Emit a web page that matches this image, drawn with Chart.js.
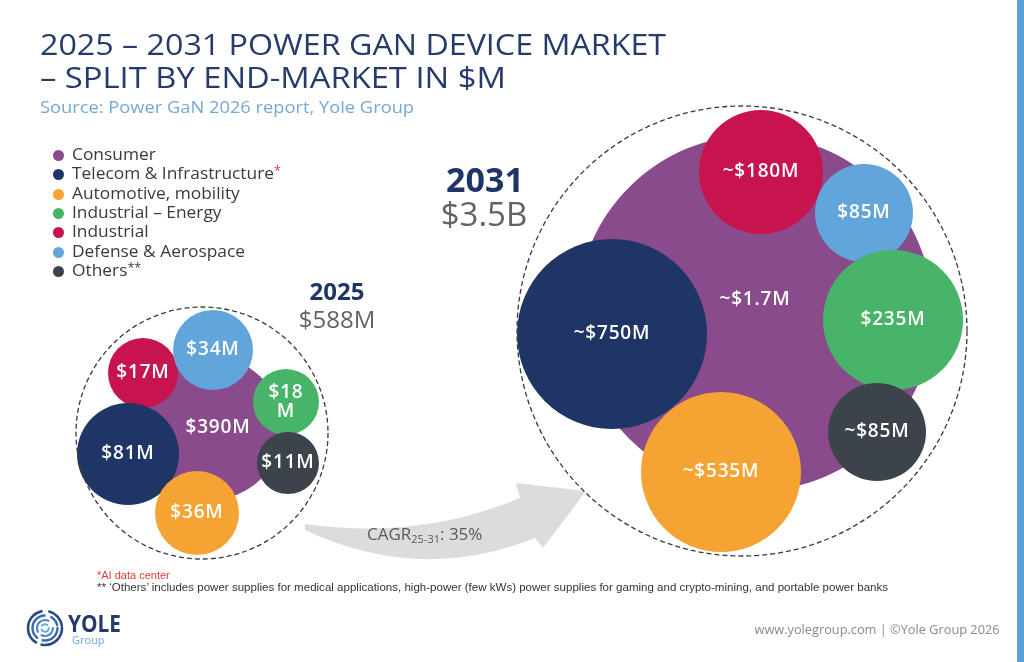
<!DOCTYPE html>
<html lang="en">
<head>
<meta charset="utf-8">
<title>Power GaN device market 2025-2031</title>
<script src="https://cdn.jsdelivr.net/npm/chart.js@4.4.1/dist/chart.umd.min.js"></script>
<style>
  html, body { margin: 0; padding: 0; background: #fff; }
  body { position: relative; width: 1024px; height: 662px; overflow: hidden;
         font-family: 'Open Sans', 'Noto Sans', sans-serif; }
  #bubbles { position: absolute; left: 0; top: 0; }
  .t { position: absolute; white-space: nowrap; line-height: 1; }
  .title { left: 40px; color: #263a6c; font-size: 30px; font-weight: 500; }
  .source { left: 40px; top: 98px; color: #74a8d6; font-size: 17px; }
  .legend-row { left: 72px; color: #3a3a3a; font-size: 16.5px; transform-origin: left top; }
  .legend-dot { position: absolute; width: 11px; height: 11px; border-radius: 50%; }
  .year { color: #1f3566; font-weight: 700; transform: translateX(-50%); }
  .total { color: #606468; transform: translateX(-50%); }
  .cagr { left: 367px; top: 525px; color: #5a5a5a; font-size: 17px; }
  .cagr sub { font-size: 11px; vertical-align: -3px; }
  .note { left: 97px; font-family: 'Liberation Sans Narrow', 'Liberation Sans', sans-serif; font-size: 11px; color: #333; }
  .footer { right: 24px; top: 623px; color: #8a8a8a; font-size: 13px; }
  .bar { position: absolute; left: 1017px; top: 0; width: 7px; height: 662px; background: #5b9fd8; }
</style>
</head>
<body>
<canvas id="bubbles" width="1024" height="662"></canvas>

<div class="t title" style="top:29px" data-w="626">2025 – 2031 POWER GAN DEVICE MARKET</div>
<div class="t title" style="top:62px" data-w="466">– SPLIT BY END-MARKET IN $M</div>
<div class="t source" data-w="374">Source: Power GaN 2026 report, Yole Group</div>

<div id="legend"></div>

<div class="t year" style="left:485px; top:162px; font-size:34px">2031</div>
<div class="t total" style="left:484px; top:197px; font-size:33px">$3.5B</div>
<div class="t year" style="left:337px; top:279px; font-size:24px">2025</div>
<div class="t total" style="left:337px; top:307px; font-size:24px">$588M</div>

<div class="t cagr">CAGR<sub>25-31</sub>: 35%</div>

<div class="t note" style="top:570px; color:#e23a3a">*AI data center</div>
<div class="t note" style="top:582px" data-w="791">** ‘Others’ includes power supplies for medical applications, high-power (few kWs) power supplies for gaming and crypto-mining, and portable power banks</div>

<svg style="position:absolute; left:25px; top:608px" width="42" height="42" viewBox="0 0 42 42">
  <g fill="none" stroke-linecap="round">
    <circle cx="20" cy="20" r="17" stroke="#2a4a85" stroke-width="2.6" stroke-dasharray="30 6 40 8 20 7"/>
    <circle cx="20" cy="20" r="12.5" stroke="#3d6aa8" stroke-width="2.4" stroke-dasharray="22 6 30 7 10 4"/>
    <circle cx="20" cy="20" r="8" stroke="#4f86c4" stroke-width="2.2" stroke-dasharray="16 5 20 9"/>
    <circle cx="20" cy="20" r="3.8" stroke="#6aa7d8" stroke-width="2" stroke-dasharray="10 4 6 4"/>
  </g>
</svg>
<div class="t" style="left:68px; top:611px; font-size:24px; font-weight:700; color:#243a6b" data-w="53">YOLE</div>
<div class="t" style="left:72px; top:634px; font-size:11px; color:#6aa7d8">Group</div>
<div class="t footer" data-w="245" data-origin="right">www.yolegroup.com | ©Yole Group 2026</div>
<div class="bar"></div>

<script>
'use strict';

// ---- data ----
const categories = ['Consumer', 'Telecom & Infrastructure', 'Automotive, mobility',
    'Industrial – Energy', 'Industrial', 'Defense & Aerospace', 'Others'];
const legendMarks = ['', '*', '', '', '', '', '**'];
const years = ['2025', '2031'];
const yearTotals = ['$588M', '$3.5B'];
const values2025 = [390, 81, 36, 18, 17, 34, 11];
const values2031 = [1700, 750, 535, 235, 180, 85, 85];
const labels2025 = ['$390M', '$81M', '$36M', '$18\nM', '$17M', '$34M', '$11M'];
const labels2031 = ['~$1.7M', '~$750M', '~$535M', '$235M', '~$180M', '$85M', '~$85M'];

// ---- styles ----
const colors = ['#8a4b8d', '#1f3566', '#f5a332', '#48b46a', '#c7144f', '#62a5db', '#3c434b'];
// bigger number = drawn further back
const drawOrder = [7, 5, 1, 3, 6, 4, 2];

// ---- layout on a 1024 x 662 grid: bubble centres and radii ----
const pos2025x = [210, 128, 197, 286, 143, 213, 288];
const pos2025y = [428, 454, 513, 402, 373, 350, 463];
const rad2025 = [72, 51, 42, 33, 35, 40, 31];
const pos2031x = [755, 612, 721, 893, 761, 864, 877];
const pos2031y = [313, 334, 472, 320, 172, 213, 432];
const rad2031 = [178, 95, 80, 70, 62, 49, 49];
const labelDx = [8, 0, 0, 0, 0, 0, 0];
const labelDy2031 = [-13, 0, 0, 0, 0, 0, 0];

// dashed outline round each year
const ringX = [202, 742];
const ringY = [433, 331];
const ringR = [126, 225];

// legend
const legend = document.getElementById('legend');
const legendRows = categories.map(function (name, i) {
    const top = 146 + i * 19.3;
    const dot = document.createElement('div');
    dot.className = 'legend-dot';
    dot.style.left = '53px';
    dot.style.top = (top + 4) + 'px';
    dot.style.background = colors[i];
    legend.appendChild(dot);
    const row = document.createElement('div');
    row.className = 't legend-row';
    row.style.top = top + 'px';
    row.textContent = name;
    if (legendMarks[i]) {
        const mark = document.createElement('span');
        mark.textContent = legendMarks[i];
        mark.style.fontSize = '12px';
        mark.style.verticalAlign = '4px';
        mark.style.color = legendMarks[i] === '*' ? '#e23a3a' : '#3a3a3a';
        row.appendChild(mark);
    }
    legend.appendChild(row);
    return row;
});
// "Telecom & Infrastructure*" runs to x=281 in the reference
const legendStretch = 209 / legendRows[1].getBoundingClientRect().width;
legendRows.forEach(function (row) {
    row.style.transform = 'scaleX(' + legendStretch.toFixed(3) + ')';
});

// stretch text to the widths measured on the reference
document.querySelectorAll('[data-w]').forEach(function (el) {
    const w = parseFloat(el.dataset.w);
    const cur = el.getBoundingClientRect().width;
    el.style.transformOrigin = (el.dataset.origin || 'left') + ' top';
    el.style.transform = 'scaleX(' + (w / cur).toFixed(3) + ')';
});

const decorations = {
    id: 'decorations',
    beforeDatasetsDraw: function (chart) {
        const c = chart.ctx;
        const px = v => chart.scales.x.getPixelForValue(v);
        const py = v => chart.scales.y.getPixelForValue(v);
        // growth arrow
        c.save();
        c.fillStyle = '#dcdcdc';
        c.beginPath();
        c.moveTo(px(305), py(524));
        c.quadraticCurveTo(px(420), py(540), px(520), py(498));
        c.lineTo(px(516), py(483));
        c.lineTo(px(586), py(491));
        c.lineTo(px(543), py(548));
        c.lineTo(px(535), py(538));
        c.quadraticCurveTo(px(420), py(584), px(305), py(530));
        c.closePath();
        c.fill();
        c.restore();
    },
    afterDatasetsDraw: function (chart) {
        const c = chart.ctx;
        const xs = chart.scales.x;
        const ys = chart.scales.y;
        c.save();
        c.strokeStyle = '#3a3a3a';
        c.lineWidth = 1.3;
        c.setLineDash([5, 3]);
        ringX.forEach(function (x, i) {
            const r = xs.getPixelForValue(x + ringR[i]) - xs.getPixelForValue(x);
            c.beginPath();
            c.arc(xs.getPixelForValue(x), ys.getPixelForValue(ringY[i]), r, 0, Math.PI * 2);
            c.stroke();
        });
        c.restore();

        // values inside the bubbles
        c.save();
        c.fillStyle = '#ffffff';
        c.font = '600 19px "Open Sans", sans-serif';
        c.letterSpacing = '0.8px';
        c.textAlign = 'center';
        c.textBaseline = 'middle';
        chart.data.datasets.forEach(function (ds, i) {
            chart.getDatasetMeta(i).data.forEach(function (pt, j) {
                const lines = ds.data[j].label.split('\n');
                const x = pt.x + ds.data[j].dx;
                const y = pt.y + ds.data[j].dy - (lines.length - 1) * 9.5;
                lines.forEach(function (line, k) {
                    c.fillText(line, x, y + k * 19);
                });
            });
        });
        c.restore();
    },
};

const datasets = categories.map(function (name, i) {
    return {
        label: name,
        data: [
            {x: pos2025x[i], y: pos2025y[i], r: rad2025[i], value: values2025[i],
                label: labels2025[i], dx: labelDx[i], dy: 0},
            {x: pos2031x[i], y: pos2031y[i], r: rad2031[i], value: values2031[i],
                label: labels2031[i], dx: 0, dy: labelDy2031[i]},
        ],
        backgroundColor: colors[i],
        borderWidth: 0,
        hoverRadius: 0,
        order: drawOrder[i],
        clip: false,
    };
});

new Chart(document.getElementById('bubbles'), {
    type: 'bubble',
    data: {datasets: datasets},
    options: {
        responsive: false,
        animation: false,
        events: [],
        layout: {padding: 0, autoPadding: false},
        scales: {
            x: {type: 'linear', min: 0, max: 1024, display: false},
            y: {type: 'linear', min: 0, max: 662, reverse: true, display: false},
        },
        plugins: {
            legend: {display: false},
            tooltip: {enabled: false},
        },
    },
    plugins: [decorations],
});
</script>
</body>
</html>
